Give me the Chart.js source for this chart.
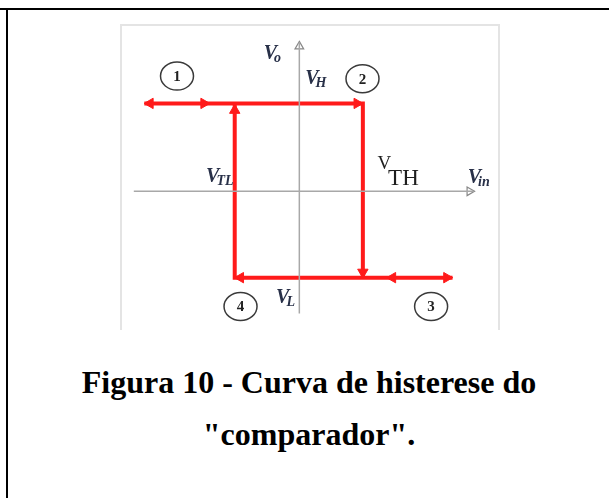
<!DOCTYPE html>
<html lang="pt">
  <head>
    <meta charset="UTF-8" />
    <title>Curva de histerese</title>
    <script src="https://cdn.jsdelivr.net/npm/chart.js@4/dist/chart.umd.min.js"></script>
    <style>
      body { margin: 0; background: #fff; width: 609px; height: 498px; overflow: hidden; position: relative; }
      #topline { position: absolute; left: 0; top: 8px; width: 609px; height: 2px; background: #000; }
      #leftline { position: absolute; left: 6px; top: 10px; width: 2px; height: 488px; background: #000; }
      #frame { position: absolute; left: 120px; top: 24px; width: 376px; height: 304px;
               border: 2px solid #e4e4e4; border-bottom: none; }
      #hyst { position: absolute; left: 121px; top: 25px; }
      #caption { position: absolute; left: 8px; top: 356px; width: 602px; text-align: center;
                 font-family: "Liberation Serif", "Times New Roman", serif; font-weight: bold;
                 font-size: 32px; line-height: 52px; color: #000; }
    </style>
  </head>
  <body>
    <div id="topline"></div>
    <div id="leftline"></div>
    <div id="frame"></div>
    <canvas id="hyst" width="377" height="302"></canvas>
    <div id="caption">Figura 10 - Curva de histerese do<br>&quot;comparador&quot;.</div>
    <script>
      // levels of the comparator
      const VH = 3.05;
      const VL = -3.0;
      const VTL = -1.78;
      const VTH = 1.75;
      const xLeftEnd = -4.27;
      const xRightEnd = 4.22;

      // hysteresis path (x, y)
      const loopX = [xLeftEnd, VTH, VTH, xRightEnd, VTL, VTL];
      const loopY = [VH, VH, VL, VL, VL, VH];

      // arrow marks on the path
      const arrowX = [-4.11, -2.63, 1.59, VTL, VTH, 2.57, 4.06, -1.62];
      const arrowY = [VH, VH, VH, 2.81, -2.81, VL, VL, VL];
      const arrowRot = [270, 90, 90, 0, 180, 270, 90, 270];

      // numbered circles
      const stepNames = ['1', '2', '4', '3'];
      const stepX = [-3.37, 1.74, -1.62, 3.63];
      const stepY = [4.0, 3.91, -4.0, -4.0];

      // axis labels
      const labMain = ['V', 'V', 'V', 'V', 'V', 'V'];
      const labSub = ['o', 'H', 'TL', 'TH', 'in', 'L'];
      const labX = [-0.98, 0.16, -2.57, 2.15, 4.64, -0.64];
      const labY = [4.6, 3.74, 0.33, 0.76, 0.3, -3.87];

      const red = '#ff1a1a';
      const grey = '#a8a8a8';

      const pts = (xs, ys) => xs.map((x, i) => ({ x: x, y: ys[i] }));

      const extras = {
        id: 'extras',
        afterDatasetsDraw(chart) {
          const ctx = chart.ctx;
          const sx = chart.scales.x, sy = chart.scales.y;
          ctx.save();
          // circles with numbers
          for (let i = 0; i < stepNames.length; i++) {
            const px = sx.getPixelForValue(stepX[i]);
            const py = sy.getPixelForValue(stepY[i]);
            ctx.beginPath();
            ctx.ellipse(px, py, 16.5, 14, 0, 0, Math.PI * 2);
            ctx.fillStyle = '#fff';
            ctx.fill();
            ctx.lineWidth = 1.5;
            ctx.strokeStyle = '#3a3a3a';
            ctx.stroke();
            ctx.fillStyle = '#222';
            ctx.font = 'bold 15px "Liberation Serif", serif';
            ctx.textAlign = 'center';
            ctx.textBaseline = 'middle';
            ctx.fillText(stepNames[i], px, py + 1);
          }
          // axis labels
          ctx.textAlign = 'left';
          ctx.textBaseline = 'alphabetic';
          for (let i = 0; i < labMain.length; i++) {
            const px = sx.getPixelForValue(labX[i]);
            const py = sy.getPixelForValue(labY[i]);
            if (labSub[i] === 'TH') {
              ctx.fillStyle = '#1e1e1e';
              ctx.font = '19px "Liberation Serif", serif';
              ctx.fillText(labMain[i], px, py);
              const w = ctx.measureText(labMain[i]).width;
              ctx.font = '23px "Liberation Serif", serif';
              ctx.fillText(labSub[i], px + w - 3, py + 16);
            } else {
              ctx.fillStyle = '#283048';
              ctx.font = 'italic bold 20px "Liberation Serif", serif';
              ctx.fillText(labMain[i], px, py);
              const w = ctx.measureText(labMain[i]).width;
              ctx.font = 'italic bold 14px "Liberation Serif", serif';
              ctx.fillText(labSub[i], px + w - 3, py + 3);
            }
          }
          ctx.restore();
        }
      };

      new Chart(document.getElementById('hyst'), {
        type: 'scatter',
        data: {
          datasets: [
            {
              // Vin axis
              data: pts([-4.56, 4.8], [0, 0]),
              showLine: true,
              borderColor: grey,
              borderWidth: 1.5,
              pointRadius: 0
            },
            {
              data: pts([4.69], [0]),
              pointStyle: 'triangle',
              rotation: 90,
              pointRadius: 5,
              backgroundColor: '#fff',
              borderColor: '#888',
              borderWidth: 1.2
            },
            {
              // Vo axis
              data: pts([0, 0], [-4.24, 5.17]),
              showLine: true,
              borderColor: grey,
              borderWidth: 1.5,
              pointRadius: 0
            },
            {
              data: pts([0], [5.03]),
              pointStyle: 'triangle',
              rotation: 0,
              pointRadius: 5,
              backgroundColor: '#fff',
              borderColor: '#888',
              borderWidth: 1.2
            },
            {
              // hysteresis loop
              data: pts(loopX, loopY),
              showLine: true,
              borderColor: red,
              borderWidth: 4,
              borderJoinStyle: 'miter',
              pointRadius: 0
            },
            {
              data: pts(arrowX, arrowY),
              pointStyle: 'triangle',
              rotation: arrowRot,
              pointRadius: 6,
              backgroundColor: red,
              borderColor: red,
              borderWidth: 1
            }
          ]
        },
        options: {
          responsive: false,
          animation: false,
          layout: { padding: 0 },
          scales: {
            x: { type: 'linear', min: -4.72, max: 5.28, display: false },
            y: { type: 'linear', min: -4.47, max: 5.53, display: false }
          },
          plugins: {
            legend: { display: false },
            tooltip: { enabled: false }
          }
        },
        plugins: [extras]
      });
    </script>
  </body>
</html>
